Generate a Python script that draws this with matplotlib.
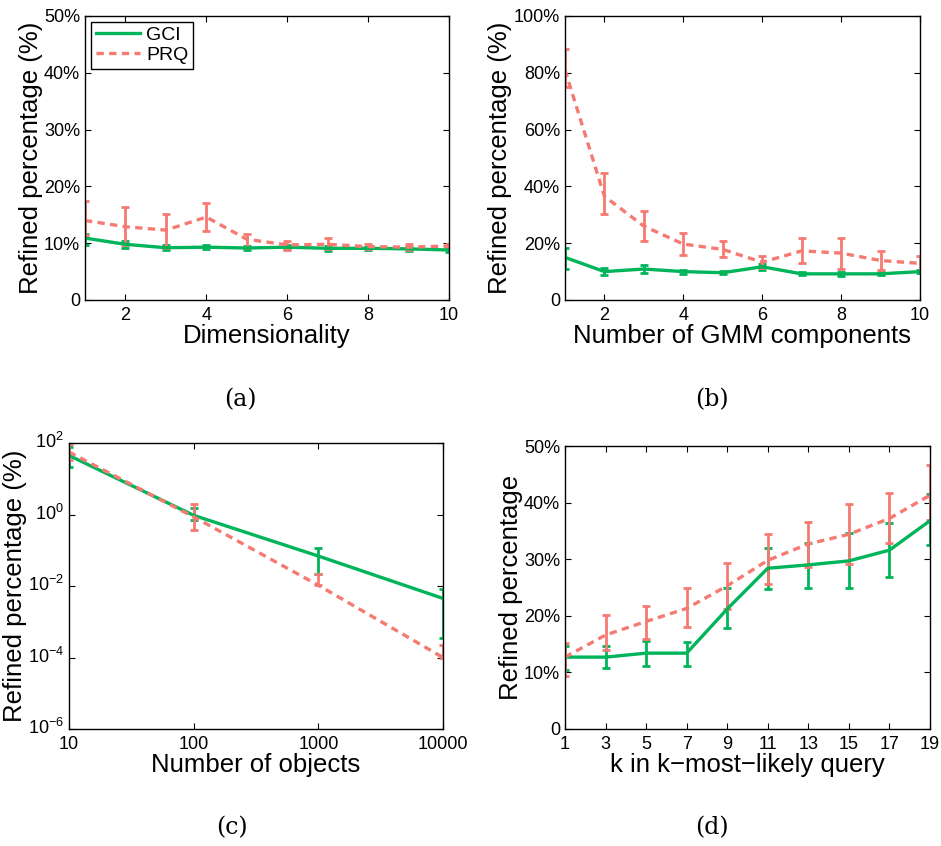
import numpy as np
import matplotlib
matplotlib.use('Agg')
from matplotlib import pyplot as plt
from matplotlib.ticker import FixedLocator, FuncFormatter
from matplotlib.lines import Line2D
from matplotlib.transforms import ScaledTranslation

plt.rcParams['font.family'] = ['Liberation Sans', 'DejaVu Sans']
plt.rcParams['mathtext.fontset'] = 'custom'
plt.rcParams['mathtext.rm'] = 'Liberation Sans'
plt.rcParams['mathtext.it'] = 'Liberation Sans'

GREEN = '#00b45a'
RED = '#f47a72'

# (a) dimensionality
dims = [1, 2, 3, 4, 5, 6, 7, 8, 9, 10]
a_gci = [10.9, 9.8, 9.2, 9.3, 9.15, 9.3, 9.1, 9.1, 9.0, 8.8]
a_gci_lo = [9.7, 9.2, 8.8, 8.9, 8.8, 8.9, 8.7, 8.8, 8.6, 8.5]
a_gci_hi = [11.7, 10.4, 9.6, 9.7, 9.5, 9.7, 9.5, 9.4, 9.4, 9.1]
a_prq = [14.0, 12.9, 12.3, 14.6, 10.7, 9.7, 9.8, 9.4, 9.3, 9.5]
a_prq_lo = [11.5, 9.7, 9.1, 12.1, 9.1, 8.8, 8.9, 9.0, 8.8, 9.1]
a_prq_hi = [17.4, 16.3, 15.2, 17.1, 11.6, 10.4, 11.0, 9.8, 9.8, 9.9]

# (b) number of GMM components
comps = [1, 2, 3, 4, 5, 6, 7, 8, 9, 10]
b_gci = [15.0, 10.0, 10.9, 10.0, 9.6, 11.7, 9.2, 9.2, 9.2, 10.0]
b_gci_lo = [10.8, 8.8, 9.6, 9.3, 9.1, 10.7, 8.7, 8.6, 8.7, 9.4]
b_gci_hi = [18.2, 11.2, 12.2, 10.7, 10.1, 12.7, 9.7, 9.8, 9.7, 10.6]
b_prq = [81.0, 36.5, 26.0, 19.7, 17.8, 13.3, 17.3, 16.5, 13.9, 12.9]
b_prq_lo = [74.9, 30.3, 20.9, 15.8, 15.0, 11.2, 12.9, 10.8, 10.6, 10.3]
b_prq_hi = [88.3, 44.8, 31.5, 23.5, 20.9, 15.5, 21.7, 21.7, 17.3, 15.5]

# (c) number of objects
objs = [10, 100, 1000, 10000]
c_gci = [45, 0.95, 0.069, 0.0045]
c_gci_lo = [21, 0.7, 0.0215, 0.00035]
c_gci_hi = [77, 1.5, 0.117, 0.0081]
c_prq = [56, 0.86, 0.0105, 0.0001]
c_prq_lo = [33, 0.37, 0.0105, 0.0001]
c_prq_hi = [92, 1.95, 0.0215, 0.00022]

# (d) k in k-most-likely query
ks = [1, 3, 5, 7, 9, 11, 13, 15, 17, 19]
d_gci = [12.7, 12.7, 13.4, 13.4, 21.2, 28.4, 29.0, 29.7, 31.6, 36.8]
d_gci_lo = [10.5, 10.8, 11.2, 11.2, 17.8, 24.7, 25.0, 24.9, 26.9, 32.5]
d_gci_hi = [14.6, 14.7, 15.5, 15.3, 24.9, 31.9, 32.9, 34.7, 36.4, 41.5]
d_prq = [12.7, 16.6, 19.0, 21.3, 25.3, 29.8, 32.7, 34.4, 37.2, 41.3]
d_prq_lo = [9.3, 14.0, 15.9, 18.1, 21.2, 25.6, 28.7, 29.1, 32.9, 36.9]
d_prq_hi = [15.2, 20.2, 21.8, 25.0, 29.3, 34.4, 36.6, 39.8, 41.7, 46.6]

DASH = (0, (2.2, 1.6))


def draw(ax, x, m, lo, hi, color, dashed):
    m = np.array(m)
    err = [m - np.array(lo), np.array(hi) - m]
    ls = DASH if dashed else '-'
    ax.errorbar(x, m, yerr=err, color=color, lw=2.4, ls=ls,
                elinewidth=2.0, capsize=3, capthick=2.0)


def style(ax):
    ax.tick_params(direction='in', top=True, right=True, labelsize=13,
                   length=4, width=0.8)
    ax.tick_params(axis='x', pad=5)
    for s in ax.spines.values():
        s.set_linewidth(1.0)


def pct(v, pos):
    return '0' if v == 0 else '%d%%' % v


def caption(x, y, s):
    fig.text(x / 941, 1 - y / 846, s, ha='center', va='center',
             fontsize=17, family='DejaVu Serif')


fig = plt.figure(figsize=(9.41, 8.46), dpi=100)

# (a)
ax = fig.add_axes([0.0903, 0.6454, 0.3868, 0.3357])
draw(ax, dims, a_gci, a_gci_lo, a_gci_hi, GREEN, False)
draw(ax, dims, a_prq, a_prq_lo, a_prq_hi, RED, True)
ax.set_xlim(1, 10)
ax.set_ylim(0, 50)
ax.xaxis.set_major_locator(FixedLocator([2, 4, 6, 8, 10]))
ax.yaxis.set_major_locator(FixedLocator([0, 10, 20, 30, 40, 50]))
ax.yaxis.set_major_formatter(FuncFormatter(pct))
ax.set_xlabel('Dimensionality', fontsize=18.5, labelpad=0)
ax.set_ylabel('Refined percentage (%)', fontsize=18.5, labelpad=1)
style(ax)
handles = [Line2D([], [], color=GREEN, lw=2.4),
           Line2D([], [], color=RED, lw=2.4, ls=DASH)]
leg = ax.legend(handles, ['GCI', 'PRQ'], loc='upper left', fontsize=14,
                fancybox=False, framealpha=1, edgecolor='black',
                handlelength=2.3, borderaxespad=0.3, labelspacing=0.1,
                handletextpad=0.3, borderpad=0.25)
leg.get_frame().set_linewidth(1.0)
caption(240, 400, '(a)')

# (b)
ax = fig.add_axes([0.6004, 0.6454, 0.3773, 0.3357])
draw(ax, comps, b_gci, b_gci_lo, b_gci_hi, GREEN, False)
draw(ax, comps, b_prq, b_prq_lo, b_prq_hi, RED, True)
ax.set_xlim(1, 10)
ax.set_ylim(0, 100)
ax.xaxis.set_major_locator(FixedLocator([2, 4, 6, 8, 10]))
ax.yaxis.set_major_locator(FixedLocator([0, 20, 40, 60, 80, 100]))
ax.yaxis.set_major_formatter(FuncFormatter(pct))
ax.set_xlabel('Number of GMM components', fontsize=18.5, labelpad=0)
ax.set_ylabel('Refined percentage (%)', fontsize=18.5, labelpad=1)
style(ax)
caption(712, 400, '(b)')

# (c)
ax = fig.add_axes([0.0733, 0.1383, 0.3975, 0.338])
draw(ax, objs, c_gci, c_gci_lo, c_gci_hi, GREEN, False)
draw(ax, objs, c_prq, c_prq_lo, c_prq_hi, RED, True)
ax.set_xscale('log')
ax.set_yscale('log')
ax.set_xlim(10, 10000)
ax.set_ylim(1e-6, 1e2)
ax.xaxis.set_major_locator(FixedLocator(objs))
ax.xaxis.set_major_formatter(FuncFormatter(lambda v, p: '%d' % v))
ax.xaxis.set_minor_locator(FixedLocator([]))
ax.yaxis.set_major_locator(FixedLocator([1e-6, 1e-4, 1e-2, 1e0, 1e2]))
ax.yaxis.set_major_formatter(
    FuncFormatter(lambda v, p: r'$10^{%d}$' % int(round(np.log10(v)))))
ax.yaxis.set_minor_locator(FixedLocator([]))
ax.set_xlabel('Number of objects', fontsize=18.5, labelpad=0)
ax.set_ylabel('Refined percentage (%)', fontsize=18.5, labelpad=1)
style(ax)
# nudge the log labels up a little so the bottom one clears "10"
shift = ScaledTranslation(0, 2 / 72, fig.dpi_scale_trans)
for lab in ax.get_yticklabels():
    lab.set_transform(lab.get_transform() + shift)
caption(232, 828, '(c)')

# (d)
ax = fig.add_axes([0.6004, 0.1383, 0.3879, 0.3345])
draw(ax, ks, d_gci, d_gci_lo, d_gci_hi, GREEN, False)
draw(ax, ks, d_prq, d_prq_lo, d_prq_hi, RED, True)
ax.set_xlim(1, 19)
ax.set_ylim(0, 50)
ax.xaxis.set_major_locator(FixedLocator(ks))
ax.yaxis.set_major_locator(FixedLocator([0, 10, 20, 30, 40, 50]))
ax.yaxis.set_major_formatter(FuncFormatter(pct))
ax.set_xlabel('k in k\u2212most\u2212likely query', fontsize=18.5, labelpad=0)
ax.set_ylabel('Refined percentage', fontsize=18.5, labelpad=1)
style(ax)
caption(712, 828, '(d)')

fig.savefig('out.png', dpi=100)
